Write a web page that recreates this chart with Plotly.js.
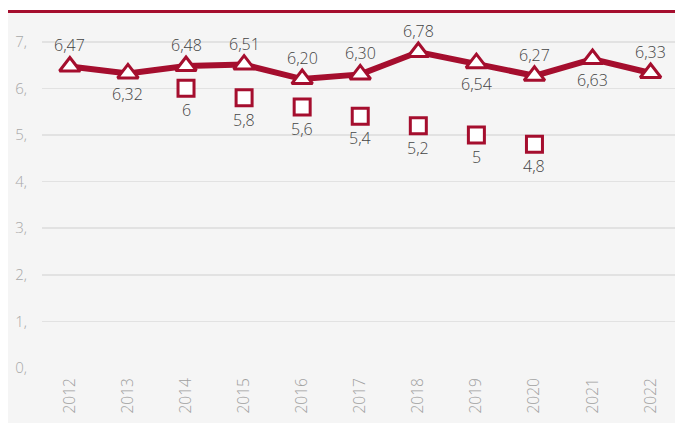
<!DOCTYPE html>
<html>
<head>
<meta charset="utf-8">
<script src="https://cdn.plot.ly/plotly-3.0.1.min.js"></script>
<style>
  html, body { margin: 0; padding: 0; background: #ffffff; width: 675px; height: 423px; overflow: hidden; }
  #topline { position: absolute; left: 8px; top: 10px; width: 667px; height: 3px; background: #a50e2e; }
  #chart { position: absolute; left: 8px; top: 13px; width: 667px; height: 410px; }
</style>
</head>
<body>
<div id="topline"></div>
<div id="chart"></div>
<script>
const years = ['2012','2013','2014','2015','2016','2017','2018','2019','2020','2021','2022'];
const mainValues = [6.47, 6.32, 6.48, 6.51, 6.20, 6.30, 6.78, 6.54, 6.27, 6.63, 6.33];
const mainLabels = ['6,47','6,32','6,48','6,51','6,20','6,30','6,78','6,54','6,27','6,63','6,33'];
const mainLabelSide = [1, -1, 1, 1, 1, 1, 1, -1, 1, -1, 1];
const targetYears = ['2014','2015','2016','2017','2018','2019','2020'];
const targetValues = [6, 5.8, 5.6, 5.4, 5.2, 5, 4.8];
const targetLabels = ['6','5,8','5,6','5,4','5,2','5','4,8'];
const yTickVals = [0,1,2,3,4,5,6,7];
const yTickText = ['0,','1,','2,','3,','4,','5,','6,','7,'];

const red = '#a50e2e';
const xIdx = y => years.indexOf(y);
const labelFont = { family: 'Open Sans', size: 16, color: '#444444', weight: 300 };

const traces = [
  {
    type: 'scatter', mode: 'lines+markers',
    x: years.map(xIdx), y: mainValues,
    line: { color: red, width: 6 },
    marker: { symbol: 'triangle-up', size: 18, color: '#ffffff', line: { color: red, width: 3 } },
    cliponaxis: false, hoverinfo: 'skip'
  },
  {
    type: 'scatter', mode: 'markers',
    x: targetYears.map(xIdx), y: targetValues,
    marker: { symbol: 'square', size: 16, color: '#ffffff', line: { color: red, width: 3 } },
    cliponaxis: false, hoverinfo: 'skip'
  }
];

const annotations = [];
years.forEach((yr, i) => {
  annotations.push({
    x: xIdx(yr), y: mainValues[i], xref: 'x', yref: 'y',
    text: mainLabels[i], showarrow: false, font: labelFont,
    yshift: 21 * mainLabelSide[i]
  });
});
targetYears.forEach((yr, i) => {
  annotations.push({
    x: xIdx(yr), y: targetValues[i], xref: 'x', yref: 'y',
    text: targetLabels[i], showarrow: false, font: labelFont,
    yshift: -22
  });
});

const layout = {
  width: 667, height: 410,
  margin: { l: 34, r: 0, t: 5, b: 55 },
  paper_bgcolor: '#f5f5f5', plot_bgcolor: '#f5f5f5',
  showlegend: false,
  font: { family: 'Open Sans', color: '#aaaaaa' },
  annotations: annotations,
  xaxis: {
    type: 'linear', range: [-0.48, 10.42],
    tickvals: years.map(xIdx), ticktext: years, tickangle: -90,
    tickfont: { family: 'Open Sans', size: 15.5, color: '#a0a0a0', weight: 300 },
    showgrid: false, zeroline: false, showline: false, ticks: '', ticklen: 0,
    ticklabelstandoff: 6
  },
  yaxis: {
    range: [0, 7.51],
    tickvals: yTickVals, ticktext: yTickText,
    tickfont: { family: 'Open Sans', size: 15, color: '#a8a8a8', weight: 300 },
    showgrid: true, gridcolor: '#e2e2e2', gridwidth: 1.5,
    zeroline: false, showline: false, ticks: '', ticklabelstandoff: 14
  }
};

Plotly.newPlot('chart', traces, layout, { displayModeBar: false, staticPlot: true });
</script>
</body>
</html>
